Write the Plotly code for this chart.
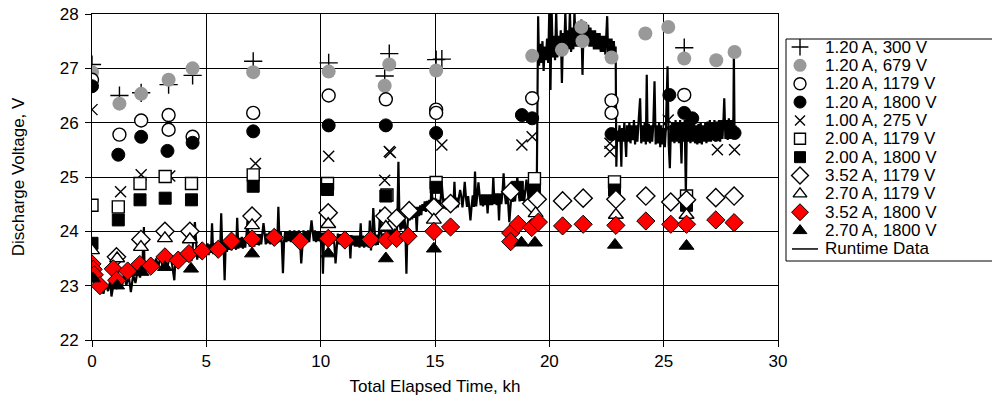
import plotly.graph_objects as go

# ---------------- data ----------------
legend_labels = ["1.20 A, 300 V", "1.20 A, 679 V", "1.20 A, 1179 V", "1.20 A, 1800 V",
                 "1.00 A, 275 V", "2.00 A, 1179 V", "2.00 A, 1800 V", "3.52 A, 1179 V",
                 "2.70 A, 1179 V", "3.52 A, 1800 V", "2.70 A, 1800 V", "Runtime Data"]

a120_300_kh = [0.0, 1.2, 2.15, 3.35, 4.4, 7.05, 10.35, 12.8, 13.0, 15.05, 15.3, 25.9]
a120_300_v = [27.07, 26.5, 26.55, 26.7, 26.87, 27.13, 27.1, 26.86, 27.27, 27.16, 27.17, 27.38]

a120_679_kh = [0.0, 1.2, 2.15, 3.35, 4.4, 7.05, 10.35, 12.8, 13.0, 15.05, 19.25, 20.55, 21.4, 21.45,
               22.72, 24.2, 25.2, 25.9, 27.3, 28.1]
a120_679_v = [26.93, 26.35, 26.53, 26.79, 27.0, 26.93, 26.94, 26.68, 27.07, 26.96, 27.23, 27.34, 27.76, 27.5,
              27.2, 27.64, 27.76, 27.18, 27.15, 27.3]

a120_1179_kh = [0.0, 1.2, 2.15, 3.35, 3.35, 4.4, 7.05, 10.35, 12.85, 15.05, 15.05, 19.25, 22.72, 22.72, 25.9]
a120_1179_v = [26.79, 25.78, 26.04, 26.14, 25.87, 25.74, 26.18, 26.5, 26.43, 26.24, 26.18, 26.45, 26.41, 26.18, 26.51]

a120_1800_kh = [0.0, 1.15, 2.15, 3.3, 4.4, 7.05, 10.35, 12.85, 15.05, 18.8, 19.25, 22.72, 25.25, 25.9,
                26.25, 27.3, 28.1]
a120_1800_v = [26.67, 25.41, 25.74, 25.48, 25.63, 25.84, 25.95, 25.95, 25.81, 26.14, 26.08, 25.79, 26.51, 26.18,
               26.08, 25.78, 25.81]

a100_275_kh = [0.0, 1.25, 2.15, 3.4, 7.15, 10.35, 12.8, 13.0, 13.05, 15.3, 18.8, 19.25, 22.65, 22.65,
               25.2, 25.2, 27.35, 28.1]
a100_275_v = [26.24, 24.73, 25.04, 25.02, 25.25, 25.38, 24.94, 25.47, 25.45, 25.59, 25.59, 25.74, 25.62, 25.47,
              26.05, 25.9, 25.5, 25.5]

a200_1179_kh = [0.0, 1.15, 2.1, 3.2, 4.35, 7.05, 10.3, 12.9, 15.05, 19.35, 22.85, 26.0]
a200_1179_v = [24.48, 24.45, 24.88, 25.01, 24.88, 25.04, 24.88, 24.67, 24.9, 24.97, 24.91, 24.65]

a200_1800_kh = [0.0, 1.15, 2.1, 3.2, 4.35, 7.05, 10.3, 12.85, 15.05, 18.6, 19.35, 22.85, 26.0]
a200_1800_v = [23.78, 24.21, 24.58, 24.61, 24.58, 24.83, 24.77, 24.65, 24.81, 24.81, 24.76, 24.76, 24.48]

a352_1179_kh = [1.07, 2.14, 3.19, 4.28, 7.0, 10.33, 12.81, 13.32, 13.87, 14.95, 15.68, 18.31, 19.23, 19.47,
                20.58, 21.48, 22.91, 24.22, 25.31, 26.0, 27.28, 28.08]
a352_1179_v = [23.53, 23.85, 24.0, 24.0, 24.28, 24.34, 24.28, 24.24, 24.38, 24.44, 24.51, 24.73, 24.51, 24.59,
               24.56, 24.61, 24.59, 24.65, 24.54, 24.58, 24.62, 24.65]

a270_1179_kh = [0.0, 1.1, 2.14, 3.19, 4.28, 7.0, 10.33, 12.85, 14.95, 19.4, 22.91, 26.0]
a270_1179_v = [23.65, 23.5, 23.71, 23.87, 23.85, 24.11, 24.13, 24.08, 24.21, 24.33, 24.3, 24.3]

a352_1800_kh = [0.0, 0.05, 0.1, 0.35, 0.93, 1.08, 1.56, 2.09, 2.57, 3.19, 3.77, 4.24, 4.82, 5.52, 6.1,
                7.0, 7.97, 9.1, 10.33, 11.06, 12.18, 12.88, 13.32, 13.82, 14.95, 15.68, 18.31, 18.31,
                18.64, 19.23, 19.52, 20.58, 21.48, 22.91, 24.22, 25.31, 26.0, 27.28, 28.08]
a352_1800_v = [23.4, 23.3, 23.2, 23.0, 23.31, 23.1, 23.27, 23.39, 23.36, 23.53, 23.47, 23.59, 23.64, 23.67, 23.82,
               23.86, 23.89, 23.82, 23.87, 23.84, 23.85, 23.84, 23.87, 23.91, 24.0, 24.08, 23.97, 23.81,
               24.13, 24.07, 24.17, 24.1, 24.13, 24.11, 24.19, 24.13, 24.13, 24.21, 24.16]

a270_1800_kh = [0.05, 1.1, 2.16, 3.19, 4.33, 7.0, 10.33, 12.85, 14.95, 18.78, 19.37, 22.87, 26.0]
a270_1800_v = [23.13, 23.0, 23.25, 23.34, 23.31, 23.59, 23.59, 23.5, 23.68, 23.79, 23.79, 23.75, 23.73]

# runtime trace, part 1: 0 - 4.4 kh
runtime_a_kh = [
    0.00, 0.05, 0.10, 0.15, 0.20, 0.25, 0.30, 0.40, 0.45, 0.50,
    0.60, 0.70, 0.80, 0.85, 0.95, 1.00, 1.05, 1.10, 1.20, 1.30,
    1.40, 1.50, 1.60, 1.70, 1.80, 1.90, 2.00, 2.10, 2.20, 2.27,
    2.30, 2.40, 2.50, 2.60, 2.70, 2.80, 2.90, 3.00, 3.10, 3.20,
    3.30, 3.40, 3.50, 3.60, 3.65, 3.75, 3.85, 3.95, 4.05, 4.15,
    4.25, 4.35,
]
runtime_a_v = [
    23.35, 23.10, 23.30, 23.05, 23.20, 22.95, 23.15, 22.90, 23.10, 22.85,
    23.05, 22.90, 23.10, 22.80, 23.05, 22.95, 23.30, 23.00, 23.15, 22.95,
    23.20, 23.00, 23.20, 22.88, 23.20, 23.05, 23.30, 23.15, 23.35, 24.08,
    23.20, 23.40, 23.25, 23.45, 23.30, 23.50, 23.35, 23.55, 23.30, 23.50,
    23.35, 23.55, 23.40, 23.10, 23.50, 23.40, 23.60, 23.40, 23.60, 23.45,
    23.65, 23.45,
]

# runtime trace, part 2: 4.5 - 19.45 kh
runtime_b_kh = [
    4.50, 4.55, 4.60, 4.65, 4.70, 4.75, 4.80, 4.85, 4.90, 4.95,
    5.00, 5.05, 5.10, 5.15, 5.20, 5.25, 5.30, 5.35, 5.40, 5.45,
    5.50, 5.55, 5.60, 5.65, 5.70, 5.75, 5.80, 5.85, 5.90, 5.95,
    6.00, 6.05, 6.10, 6.15, 6.20, 6.25, 6.30, 6.35, 6.40, 6.45,
    6.50, 6.55, 6.60, 6.65, 6.70, 6.75, 6.80, 6.85, 6.90, 6.95,
    7.00, 7.05, 7.10, 7.15, 7.20, 7.25, 7.30, 7.35, 7.40, 7.45,
    7.50, 7.55, 7.60, 7.65, 7.70, 7.75, 7.80, 7.85, 7.90, 7.95,
    8.00, 8.05, 8.10, 8.15, 8.20, 8.25, 8.30, 8.35, 8.40, 8.45,
    8.50, 8.55, 8.60, 8.65, 8.70, 8.75, 8.80, 8.85, 8.90, 8.95,
    9.00, 9.05, 9.10, 9.15, 9.20, 9.25, 9.30, 9.35, 9.40, 9.45,
    9.50, 9.55, 9.60, 9.65, 9.70, 9.75, 9.80, 9.85, 9.90, 9.95,
    10.00, 10.05, 10.10, 10.15, 10.20, 10.25, 10.30, 10.35, 10.40, 10.45,
    10.50, 10.55, 10.60, 10.65, 10.70, 10.75, 10.80, 10.85, 10.90, 10.95,
    11.00, 11.05, 11.10, 11.15, 11.20, 11.25, 11.30, 11.35, 11.40, 11.45,
    11.50, 11.55, 11.60, 11.65, 11.70, 11.75, 11.80, 11.85, 11.90, 11.95,
    12.00, 12.05, 12.10, 12.15, 12.20, 12.25, 12.30, 12.35, 12.40, 12.45,
    12.50, 12.55, 12.60, 12.65, 12.70, 12.75, 12.80, 12.85, 12.90, 12.95,
    13.00, 13.05, 13.10, 13.15, 13.20, 13.25, 13.30, 13.35, 13.40, 13.45,
    13.50, 13.55, 13.60, 13.65, 13.70, 13.75, 13.80, 13.85, 13.90, 13.95,
    14.00, 14.05, 14.10, 14.15, 14.20, 14.25, 14.30, 14.35, 14.40, 14.45,
    14.50, 14.55, 14.60, 14.65, 14.70, 14.75, 14.80, 14.85, 14.90, 14.95,
    15.00, 15.05, 15.10, 15.15, 15.20, 15.25, 15.30, 15.35, 15.40, 15.45,
    15.50, 15.55, 15.60, 15.65, 15.70, 15.75, 15.80, 15.85, 15.90, 15.95,
    16.00, 16.05, 16.10, 16.15, 16.20, 16.25, 16.30, 16.35, 16.40, 16.45,
    16.50, 16.55, 16.60, 16.65, 16.70, 16.75, 16.80, 16.85, 16.90, 16.95,
    17.00, 17.05, 17.10, 17.15, 17.20, 17.25, 17.30, 17.35, 17.40, 17.45,
    17.50, 17.55, 17.60, 17.65, 17.70, 17.75, 17.80, 17.85, 17.90, 17.95,
    18.00, 18.05, 18.10, 18.15, 18.20, 18.25, 18.30, 18.35, 18.40, 18.45,
    18.50, 18.55, 18.60, 18.65, 18.70, 18.75, 18.80, 18.85, 18.90, 18.95,
    19.00, 19.05, 19.10, 19.15, 19.20, 19.25, 19.30, 19.35, 19.40, 19.45,
]
runtime_b_v = [
    24.17, 23.70, 23.48, 23.68, 23.52, 23.72, 23.50, 23.70, 23.55, 23.72,
    23.58, 23.78, 23.56, 23.76, 23.60, 24.15, 23.58, 23.78, 23.60, 23.80,
    23.60, 23.80, 23.58, 24.33, 23.62, 23.80, 23.10, 23.82, 23.62, 23.82,
    23.66, 23.86, 23.65, 23.86, 23.68, 23.88, 23.66, 24.25, 23.68, 23.88,
    23.70, 23.90, 23.68, 23.88, 23.70, 23.90, 24.20, 23.90, 23.72, 23.92,
    23.74, 23.94, 23.72, 23.94, 23.75, 23.95, 23.74, 23.95, 23.76, 23.96,
    24.15, 23.96, 23.76, 23.96, 23.78, 23.98, 23.76, 23.97, 23.78, 23.98,
    23.80, 24.00, 23.78, 24.45, 23.80, 24.00, 23.80, 23.23, 23.82, 24.00,
    23.80, 24.00, 23.82, 24.02, 23.80, 24.00, 23.82, 24.02, 23.80, 24.00,
    23.82, 24.02, 23.80, 23.41, 23.82, 24.02, 23.80, 24.00, 23.82, 24.02,
    23.80, 24.00, 24.20, 24.00, 23.82, 24.02, 23.80, 24.00, 23.82, 24.00,
    23.80, 23.98, 23.22, 23.98, 23.78, 23.98, 23.80, 23.97, 23.78, 23.97,
    23.78, 23.96, 23.76, 23.41, 23.78, 23.96, 23.76, 23.95, 23.76, 23.95,
    23.75, 23.94, 23.74, 23.94, 23.75, 23.93, 23.50, 23.93, 23.74, 23.92,
    23.72, 23.92, 23.72, 23.92, 23.70, 24.15, 23.72, 23.92, 23.70, 23.90,
    23.72, 23.92, 23.70, 24.20, 23.65, 23.92, 24.43, 23.92, 23.74, 23.94,
    23.75, 23.95, 24.40, 23.95, 23.76, 23.96, 23.76, 23.96, 23.78, 23.98,
    23.80, 24.00, 23.82, 24.02, 23.85, 24.05, 23.90, 24.10, 25.28, 24.15,
    24.02, 24.25, 24.05, 24.28, 24.10, 23.22, 24.12, 24.35, 24.20, 24.40,
    24.22, 24.42, 24.25, 24.45, 24.00, 24.45, 24.28, 24.48, 24.30, 24.50,
    24.38, 24.55, 24.36, 24.56, 24.40, 24.58, 24.38, 24.94, 24.40, 24.58,
    24.40, 24.60, 24.38, 24.58, 24.40, 24.60, 24.85, 24.60, 24.42, 24.60,
    24.40, 24.60, 24.42, 24.62, 24.40, 24.60, 24.42, 24.91, 24.42, 24.62,
    24.44, 24.64, 24.76, 24.64, 24.44, 24.64, 24.91, 24.64, 24.45, 24.65,
    24.45, 24.20, 24.46, 24.66, 24.45, 25.10, 24.46, 24.66, 24.90, 24.66,
    24.48, 24.68, 24.46, 24.68, 24.48, 24.68, 24.33, 24.68, 24.48, 24.68,
    24.48, 25.00, 24.50, 24.70, 24.48, 24.70, 24.20, 24.70, 24.50, 24.70,
    25.07, 24.70, 24.50, 24.70, 24.52, 24.17, 24.52, 24.72, 24.54, 24.72,
    24.55, 24.75, 25.00, 24.75, 24.55, 24.75, 24.56, 24.76, 24.55, 24.75,
    24.95, 24.76, 24.56, 24.76, 24.56, 24.76, 24.30, 24.76, 24.56, 24.76,
]

# runtime trace, part 3: 19.5 - 22.9 kh (high-voltage period)
runtime_c_kh = [
    19.51, 19.55, 19.60, 19.65, 19.70, 19.75, 19.80, 19.85, 19.90, 19.95,
    20.00, 20.05, 20.10, 20.15, 20.20, 20.25, 20.30, 20.35, 20.40, 20.45,
    20.50, 20.55, 20.60, 20.65, 20.70, 20.75, 20.80, 20.85, 20.90, 20.95,
    21.00, 21.05, 21.10, 21.15, 21.20, 21.25, 21.30, 21.35, 21.40, 21.45,
    21.50, 21.55, 21.60, 21.65, 21.70, 21.75, 21.80, 21.85, 21.90, 21.95,
    22.00, 22.05, 22.10, 22.15, 22.20, 22.25, 22.30, 22.35, 22.40, 22.45,
    22.50, 22.53, 22.57, 22.62, 22.67, 22.72, 22.77, 22.82, 22.87, 22.90,
    22.93,
]
runtime_c_v = [
    27.96, 27.05, 27.45, 27.10, 27.50, 26.95, 27.40, 27.15, 27.55, 27.10,
    28.10, 26.60, 28.10, 27.20, 27.60, 27.15, 28.05, 27.20, 27.60, 27.25,
    27.70, 26.73, 27.65, 27.30, 28.05, 27.30, 27.70, 27.35, 28.05, 27.30,
    27.75, 27.35, 28.05, 27.40, 27.80, 27.40, 27.85, 27.45, 27.90, 26.88,
    27.80, 27.45, 27.85, 27.45, 27.80, 27.40, 27.75, 27.40, 27.70, 27.35,
    27.70, 27.35, 27.65, 27.35, 27.65, 27.30, 27.60, 27.30, 27.60, 27.25,
    27.60, 27.96, 27.25, 27.55, 27.20, 27.55, 27.20, 27.50, 27.15, 27.40,
    25.19,
]

# runtime trace, part 4: 23 - 28.2 kh
runtime_d_kh = [
    22.97, 23.02, 23.07, 23.12, 23.15, 23.18, 23.23, 23.28, 23.33, 23.36,
    23.40, 23.45, 23.50, 23.55, 23.60, 23.65, 23.70, 23.75, 23.80, 23.85,
    23.90, 23.97, 24.02, 24.07, 24.12, 24.17, 24.22, 24.26, 24.30, 24.35,
    24.40, 24.45, 24.50, 24.55, 24.60, 24.65, 24.70, 24.75, 24.80, 24.85,
    24.90, 24.95, 25.00, 25.05, 25.10, 25.17, 25.22, 25.27, 25.32, 25.37,
    25.42, 25.47, 25.52, 25.57, 25.62, 25.67, 25.72, 25.78, 25.82, 25.87,
    25.92, 25.97, 26.02, 26.07, 26.12, 26.17, 26.22, 26.27, 26.32, 26.37,
    26.42, 26.47, 26.52, 26.57, 26.62, 26.67, 26.72, 26.77, 26.82, 26.87,
    26.92, 26.97, 27.02, 27.07, 27.12, 27.17, 27.22, 27.27, 27.32, 27.37,
    27.42, 27.47, 27.52, 27.57, 27.62, 27.65, 27.70, 27.75, 27.80, 27.85,
    27.90, 27.95, 28.00, 28.05, 28.07, 28.10, 28.15,
]
runtime_d_v = [
    25.85, 25.65, 25.95, 25.60, 25.19, 25.90, 25.65, 26.00, 25.60, 25.37,
    25.95, 25.65, 26.00, 25.62, 25.95, 25.68, 26.05, 25.60, 25.95, 25.65,
    26.00, 26.45, 25.62, 25.95, 25.65, 26.00, 25.60, 26.88, 25.65, 25.98,
    25.62, 25.95, 25.65, 26.00, 26.76, 25.60, 25.95, 25.62, 26.00, 25.55,
    25.95, 25.60, 25.90, 25.55, 25.92, 27.04, 25.60, 25.16, 25.95, 25.65,
    26.00, 25.62, 26.05, 25.65, 26.00, 25.62, 26.05, 25.25, 26.00, 25.65,
    26.05, 24.70, 26.10, 25.65, 26.00, 25.62, 25.98, 25.65, 26.00, 25.62,
    25.95, 25.60, 25.98, 25.62, 26.00, 25.60, 25.95, 25.65, 26.00, 25.62,
    26.02, 25.65, 26.05, 25.65, 26.00, 25.68, 26.05, 25.65, 26.02, 25.68,
    26.05, 25.65, 26.05, 25.70, 26.10, 26.45, 25.70, 26.05, 25.68, 26.08,
    25.70, 26.05, 25.72, 26.10, 27.30, 25.75, 25.95,
]

x_ticks = [0, 5, 10, 15, 20, 25, 30]
y_ticks = [22, 23, 24, 25, 26, 27, 28]

# ---------------- styles ----------------
FONT = "Liberation Sans, Arial, sans-serif"
styles = [
    dict(symbol="cross-thin", size=13, color="black", lc="black", lw=1.4),
    dict(symbol="circle", size=14, color="#999999", lc="#999999", lw=0),
    dict(symbol="circle", size=13, color="white", lc="black", lw=1.4),
    dict(symbol="circle", size=13, color="black", lc="black", lw=1),
    dict(symbol="x-thin", size=11, color="black", lc="black", lw=1.4),
    dict(symbol="square", size=12, color="white", lc="black", lw=1.4),
    dict(symbol="square", size=12, color="black", lc="black", lw=1),
    dict(symbol="diamond", size=14, color="white", lc="black", lw=1.4),
    dict(symbol="triangle-up", size=13, color="white", lc="black", lw=1.4),
    dict(symbol="diamond", size=14, color="#ff0000", lc="black", lw=1),
    dict(symbol="triangle-up", size=13, color="black", lc="black", lw=1),
]
series_xy = [
    (a120_300_kh, a120_300_v), (a120_679_kh, a120_679_v), (a120_1179_kh, a120_1179_v),
    (a120_1800_kh, a120_1800_v), (a100_275_kh, a100_275_v), (a200_1179_kh, a200_1179_v),
    (a200_1800_kh, a200_1800_v), (a352_1179_kh, a352_1179_v), (a270_1179_kh, a270_1179_v),
    (a352_1800_kh, a352_1800_v), (a270_1800_kh, a270_1800_v),
]

runtime_kh = runtime_a_kh + runtime_b_kh + runtime_c_kh + runtime_d_kh
runtime_v = runtime_a_v + runtime_b_v + runtime_c_v + runtime_d_v

fig = go.Figure()
fig.add_trace(go.Scatter(x=runtime_kh, y=runtime_v, mode="lines", name="Runtime Data",
                         line=dict(color="black", width=2.2), showlegend=False))
for (xs, ys), st, lab in zip(series_xy, styles, legend_labels):
    fig.add_trace(go.Scatter(x=xs, y=ys, mode="markers", name=lab, showlegend=False,
                             marker=dict(symbol=st["symbol"], size=st["size"], color=st["color"],
                                         line=dict(color=st["lc"], width=st["lw"]))))

# ---------------- manual legend (own axes) ----------------
for i, st in enumerate(styles):
    fig.add_trace(go.Scatter(x=[14], y=[i], xaxis="x2", yaxis="y2", mode="markers", showlegend=False,
                             marker=dict(symbol=st["symbol"], size=st["size"] - 1, color=st["color"],
                                         line=dict(color=st["lc"], width=st["lw"]))))
fig.add_trace(go.Scatter(x=[6, 32], y=[11, 11], xaxis="x2", yaxis="y2", mode="lines", showlegend=False,
                         line=dict(color="black", width=1.5)))
for i, lab in enumerate(legend_labels):
    fig.add_annotation(x=37, y=i, xref="x2", yref="y2", text=lab, showarrow=False,
                       xanchor="left", yanchor="middle", font=dict(family=FONT, size=17, color="black"))

W, H = 992, 417
L, T, B = 92, 14, 77
PW = W - L
PH = H - T - B
leg_left, leg_top, leg_bot = 786, 39, 261
lx0 = (leg_left - L) / PW
ly0 = (H - B - leg_bot) / PH
ly1 = (H - B - leg_top) / PH
fig.add_shape(type="rect", xref="paper", yref="paper", x0=lx0, x1=1.05, y0=ly0, y1=ly1,
              line=dict(color="black", width=1), fillcolor="white", layer="below")

axis_common = dict(showgrid=True, gridcolor="black", gridwidth=1, showline=True, linecolor="black",
                   linewidth=1, mirror=True, ticks="outside", ticklen=6, tickcolor="black",
                   zeroline=False, tickfont=dict(family=FONT, size=17, color="black"), automargin=False)

fig.update_layout(
    width=W, height=H, margin=dict(l=L, r=0, t=T, b=B, pad=0),
    paper_bgcolor="white", plot_bgcolor="white", showlegend=False,
    font=dict(family=FONT, color="black"),
    xaxis=dict(domain=[0, 686 / PW], range=[0, 30], tickvals=x_ticks, **axis_common,
               title=dict(text="Total Elapsed Time, kh", font=dict(family=FONT, size=17), standoff=9)),
    yaxis=dict(range=[22, 28], tickvals=y_ticks, ticklabelstandoff=3, **axis_common,
               title=dict(text="Discharge Voltage, V", font=dict(family=FONT, size=17), standoff=30)),
    xaxis2=dict(domain=[lx0, 1], range=[0, W - leg_left], visible=False, anchor="y2", fixedrange=True),
    yaxis2=dict(domain=[ly0, ly1], range=[11.656, -0.436], visible=False, anchor="x2", fixedrange=True),
)

fig.write_html("out.html")
